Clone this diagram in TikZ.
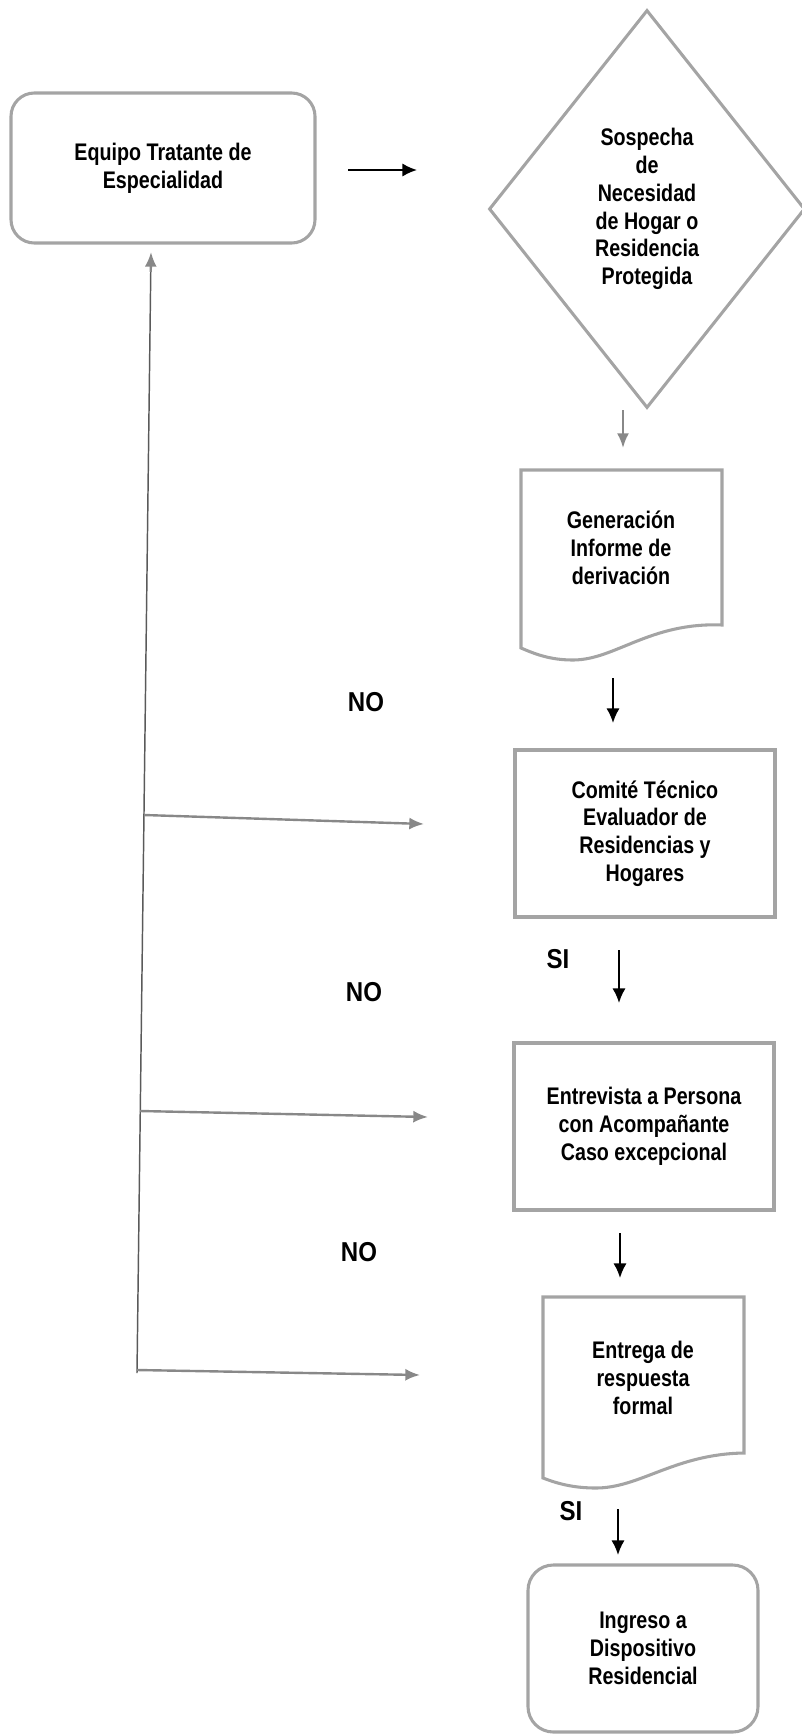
\documentclass[tikz,border=0pt]{standalone}
\usepackage{fontspec}
\setmainfont{Liberation Sans}[FakeStretch=0.82]
\newfontfamily\labelfont{Liberation Sans}[FakeStretch=0.88]
\usetikzlibrary{shapes.geometric,arrows.meta,calc}
\definecolor{boxgray}{HTML}{A4A4A4}
\definecolor{arrgray}{HTML}{888888}
\definecolor{linegray}{HTML}{5A5A5A}
\begin{document}
\begin{tikzpicture}[x=0.75pt,y=-0.75pt,
  txt/.style={font=\fontsize{18}{20.8}\selectfont\bfseries, align=center, text=black, inner sep=0pt},
  lbl/.style={font=\labelfont\fontsize{20.5}{24}\selectfont\bfseries, text=black, inner sep=0pt},
  boxline/.style={draw=boxgray, line width=2.3pt},
  roundbox/.style={txt, boxline, rectangle, rounded corners=17.5pt},
  plainbox/.style={txt, boxline, rectangle},
  blackarr/.style={draw=black, line width=1.5pt, -{Latex[length=11pt,width=10pt]}},
  grayarr/.style={draw=arrgray, line width=1.8pt, -{Latex[length=11pt,width=9pt]}},
  vline/.style={draw=linegray, line width=1.1pt}
]
\useasboundingbox (0,0) rectangle (802,1734);

% nodes
\node[roundbox, minimum width=228pt, minimum height=112.5pt] (equipo) at (163,168) {Equipo Tratante de\\Especialidad};
\node[txt, boxline, diamond, minimum width=237pt, minimum height=298.5pt] (diam) at (647,209) {Sospecha\\de\\Necesidad\\de Hogar o\\Residencia\\Protegida};
\node[txt] (gen) at (621,548) {Generación\\Informe de\\derivación};
\node[plainbox, minimum width=195pt, minimum height=125.25pt] (comite) at (645,833.5) {Comité Técnico\\Evaluador de\\Residencias y\\Hogares};
\node[plainbox, minimum width=195pt, minimum height=125.25pt] (entrev) at (644,1126.5) {Entrevista a Persona\\con Acompañante\\Caso excepcional};
\node[txt] (entrega) at (643,1378) {Entrega de\\respuesta\\formal};
\node[roundbox, rounded corners=19pt, minimum width=172.5pt, minimum height=125.25pt] (ingreso) at (643,1648.5) {Ingreso a\\Dispositivo\\Residencial};

% document shapes
\draw[boxline] (521,470) -- (722,470) -- (722,625)
  .. controls (650,622) and (615,660) .. (573,660)
  .. controls (550,660) and (535,654) .. (521,648) -- cycle;
\draw[boxline] (543,1297) -- (744,1297) -- (744,1453)
  .. controls (675,1454) and (640,1488) .. (596,1488)
  .. controls (572,1488) and (556,1483) .. (543,1478) -- cycle;

% labels
\node[lbl] (no1) at (366,702) {NO};
\node[lbl] (no2) at (364,992) {NO};
\node[lbl] (no3) at (359,1252) {NO};
\node[lbl] (si1) at (558,959) {SI};
\node[lbl] (si2) at (571,1511) {SI};

% coordinates for free connector ends
\coordinate (a0s) at (348,170);
\coordinate (a0e) at (417,170);
\coordinate (d0s) at (623,410);
\coordinate (d0e) at (623,448);
\coordinate (d1s) at (613,678);
\coordinate (d1e) at (613,723);
\coordinate (d2s) at (619,950);
\coordinate (d2e) at (619,1003);
\coordinate (d3s) at (620,1233);
\coordinate (d3e) at (620,1278);
\coordinate (d4s) at (618,1509);
\coordinate (d4e) at (618,1555);
\coordinate (vbot) at (137,1373);
\coordinate (vtop) at (151,252);
\coordinate (vmid) at (150.75,272);
\coordinate (h1s) at (144,815);
\coordinate (h1e) at (424,824);
\coordinate (h2s) at (140,1111);
\coordinate (h2e) at (428,1117);
\coordinate (h3s) at (137,1370);
\coordinate (h3e) at (420,1375);

% connectors
\draw[blackarr] (a0s) -- (a0e);
\draw[grayarr] (d0s) -- (d0e);
\draw[blackarr] (d1s) -- (d1e);
\draw[blackarr] (d2s) -- (d2e);
\draw[blackarr] (d3s) -- (d3e);
\draw[blackarr] (d4s) -- (d4e);
\draw[vline] (vbot) -- (vmid);
\draw[grayarr] (vmid) -- (vtop);
\draw[grayarr] (h1s) -- (h1e);
\draw[grayarr] (h2s) -- (h2e);
\draw[grayarr] (h3s) -- (h3e);
\end{tikzpicture}
\end{document}
